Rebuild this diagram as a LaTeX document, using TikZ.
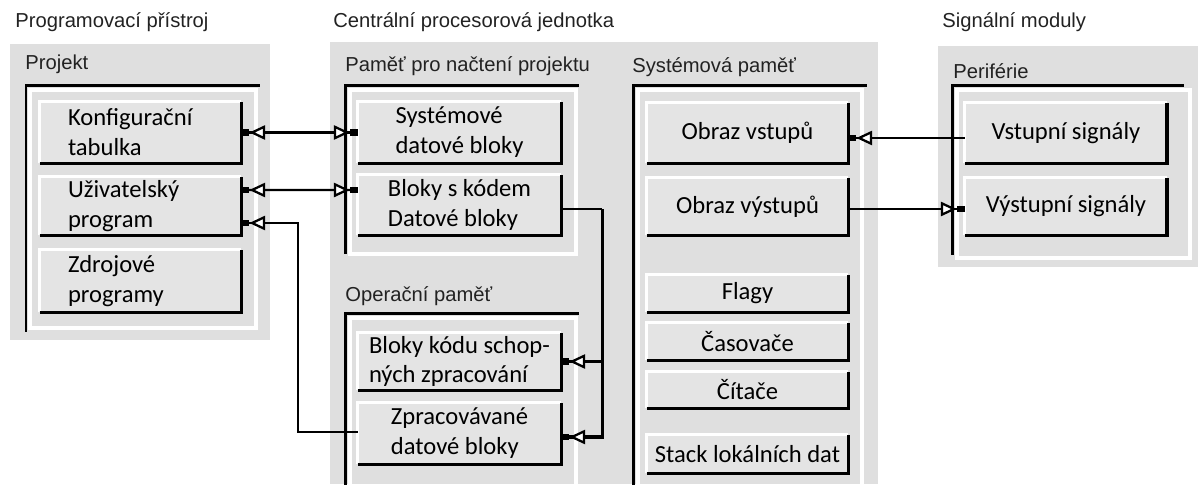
\documentclass[tikz,border=0pt]{standalone}
\usepackage{fontspec}
\setmainfont{Carlito}
\newfontfamily\uifont{Liberation Sans}
\usetikzlibrary{arrows.meta}
\definecolor{panelgray}{HTML}{DFDFDF}
\definecolor{boxgray}{HTML}{E4E4E4}
\definecolor{titlegray}{HTML}{222222}
\tikzset{
  conntip/.tip={Triangle[fill=white,length=9pt,width=8pt,line width=1.3pt] Rectangle[length=4.5pt,width=3.6pt]},
  panel/.style={fill=panelgray, draw=none},
  band/.style={draw=white, line width=0.7mm},
  frameline/.style={line width=0.6mm, line cap=rect},
  box/.style={fill=boxgray, inner sep=0pt, minimum width=40.2mm, align=left,
              font=\fontsize{14}{17}\selectfont},
  lbox/.style={box, text width=29mm},
  heading/.style={anchor=west, inner sep=0pt, text=titlegray,
                  font=\uifont\fontsize{11.5}{13}\selectfont},
  link/.style={line width=0.45mm},
  bus/.style={line width=0.65mm},
}
\begin{document}
\begin{tikzpicture}[x=0.02cm,y=-0.02cm]
\useasboundingbox (0,0) rectangle (1198,484);

% ---------- panels ----------
\fill[panel] (10,44) rectangle (270,340);
\fill[panel] (330,42) rectangle (878,484);
\fill[panel] (938,46) rectangle (1198,267);

% ---------- headings ----------
\node[heading] (hprog) at (15,22) {Programovací přístroj};
\node[heading] (hcpu) at (333,22) {Centrální procesorová jednotka};
\node[heading] (hsig) at (942,22) {Signální moduly};
\node[heading] (hproj) at (25,64) {Projekt};
\node[heading] (hload) at (345,66) {Paměť pro načtení projektu};
\node[heading] (hsys) at (632,67) {Systémová paměť};
\node[heading] (hper) at (953,71) {Periférie};
\node[heading] (hop) at (345,296) {Operační paměť};

% ---------- framed groups ----------
\draw[band] (30,90) rectangle (256,328);
\draw[frameline] (258,85) -- (26,85) -- (26,330);

\draw[band] (350,90) rectangle (576,254);
\draw[frameline] (577,85) -- (345,85) -- (345,252);

\draw[band] (350,318) rectangle (576,490);
\draw[frameline] (577,313) -- (345,313) -- (345,486);

\draw[band] (638,90) rectangle (862,490);
\draw[frameline] (865,85) -- (633,85) -- (633,486);

\draw[band] (957,90) rectangle (1190,258);
\draw[frameline] (1182,85) -- (952,85) -- (952,253);

% ---------- boxes ----------
\node[lbox, minimum height=12.2mm] (konf) at (140.5,132.5) {Konfigurační\\tabulka};
\node[lbox, minimum height=11.6mm] (uziv) at (140.5,206) {Uživatelský\\program};
\node[lbox, minimum height=12.4mm] (zdroj) at (140.5,281) {Zdrojové\\programy};

\node[box, minimum width=40.6mm, minimum height=12.2mm] (sdb) at (459.5,132.5) {Systémové\\datové bloky};
\node[box, minimum width=40.6mm, minimum height=12mm] (bsk) at (459.5,205) {Bloky s kódem\\Datové bloky};
\node[box, minimum width=40.6mm, minimum height=11.4mm] (bkod) at (459.5,361.5) {Bloky kódu schop-\\ných zpracování};
\node[box, minimum width=40.6mm, minimum height=12.2mm] (zdb) at (459.5,433.5) {Zpracovávané\\datové bloky};

\node[box, align=center, minimum height=12mm] (ovst) at (747.5,133) {Obraz vstupů};
\node[box, align=center, minimum height=11.4mm] (ovyst) at (747.5,206.5) {Obraz výstupů};
\node[box, align=center, minimum height=7.4mm] (flag) at (747.5,293.5) {Flagy};
\node[box, align=center, minimum height=7.4mm] (cas) at (747.5,341.5) {Časovače};
\node[box, align=center, minimum height=7.2mm] (cit) at (747.5,390) {Čítače};
\node[box, align=center, minimum height=7.6mm] (stack) at (747.5,454) {Stack lokálních dat};

\node[box, align=center, minimum width=40.4mm, minimum height=12mm] (vsig) at (1066,133) {Vstupní signály};
\node[box, align=center, minimum width=40.4mm, minimum height=11.4mm] (vysig) at (1066,206.5) {Výstupní signály};

% raised-button edges: light top/left, dark bottom/right
\foreach \n in {konf,uziv,zdroj,sdb,bsk,bkod,zdb,ovst,ovyst,flag,cas,cit,stack,vsig,vysig}{
  \draw[white, line width=0.7mm] (\n.south west) -- (\n.north west) -- (\n.north east);
  \draw[black, line width=0.5mm] (\n.south west) -- (\n.south east) -- (\n.north east);
}
\foreach \n in {vsig,vysig}{
  \draw[black, line width=0.8mm] (\n.south east) -- (\n.north east);
}

% ---------- connectors ----------
\draw[link, {conntip}-{conntip}] (konf.east) -- (sdb.west);
\draw[link, {conntip}-{conntip}] ([yshift=3.2mm]uziv.east) -- ([yshift=3mm]bsk.west);
\draw[link, {conntip}-] ([yshift=-3.4mm]uziv.east) -- ++(57,0) |- ([yshift=0.3mm]zdb.west);

\draw[link] ([yshift=-0.8mm]bsk.east) -- ++(41,0) coordinate (busTop);
\draw[bus] (busTop) |- ([yshift=-0.7mm]zdb.east) coordinate (busEnd);
\draw[link, -{conntip}] (busTop |- busEnd) -- ([yshift=-0.7mm]zdb.east);
\draw[link, -{conntip}] (busTop |- bkod.east) -- (bkod.east);

\draw[link, -{conntip}] ([yshift=-1mm]vsig.west) -- ([yshift=-1mm]ovst.east);
\draw[link, -{conntip}] ([yshift=-0.5mm]ovyst.east) -- ([yshift=-0.5mm]vysig.west);
\end{tikzpicture}
\end{document}
